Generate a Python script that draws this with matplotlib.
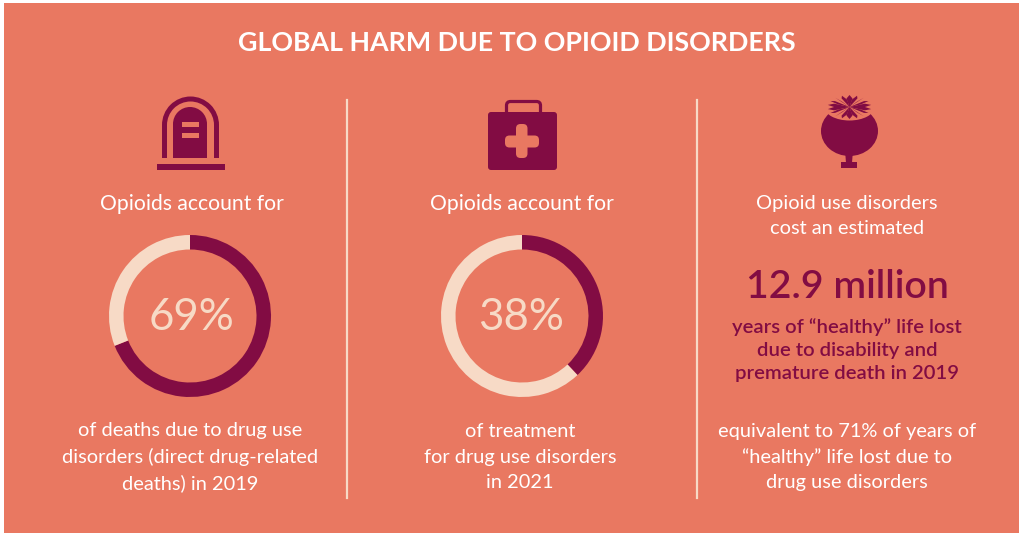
import numpy as np
import matplotlib
matplotlib.use('Agg')
import matplotlib.pyplot as plt
from matplotlib.patches import Rectangle, FancyBboxPatch, Ellipse, Polygon, Wedge

plt.rcParams['font.family'] = ['Lato', 'DejaVu Sans']

# colours
CORAL = '#E97861'
WINE = '#820C43'
CREAM = '#F7DAC6'
WHITE = '#FFFFFF'

# data
title = 'GLOBAL HARM DUE TO OPIOID DISORDERS'
shares = [69, 38]
share_labels = ['69%', '38%']
heads = ['Opioids account for', 'Opioids account for', 'Opioid use disorders\ncost an estimated']
feet = ['of deaths due to drug use\ndisorders (direct drug-related\ndeaths) in 2019',
        'of treatment\nfor drug use disorders\nin 2021',
        'equivalent to 71% of years of\n\u201chealthy\u201d life lost due to\ndrug use disorders']
big_number = '12.9 million'
big_note = 'years of \u201chealthy\u201d life lost\ndue to disability and\npremature death in 2019'

fig = plt.figure(figsize=(10.22, 5.35), dpi=100, facecolor='white')
ax = fig.add_axes([0, 0, 1, 1])

# donuts, the y axis is flipped so this runs clockwise from the top on screen
for cx, share in zip([190, 522], shares):
    ax.pie([share, 100 - share], colors=[WINE, CREAM], startangle=-90, counterclock=True,
           center=(cx, 316), radius=81, wedgeprops={'width': 14.5, 'linewidth': 0})

ax.set_xlim(0, 1022)
ax.set_ylim(535, 0)
ax.set_aspect('equal')
ax.axis('off')

# background panel
ax.add_patch(Rectangle((4, 3), 1015, 530, fc=CORAL, ec='none', zorder=0))

# column rules
for x in [347, 697]:
    ax.plot([x, x], [100, 498], color=CREAM, lw=1.6, zorder=1)

# gravestone icon
ax.add_patch(Rectangle((157, 164), 68, 6, fc=WINE, ec='none', zorder=2))
ax.add_patch(Wedge((190.5, 125), 28.5, 180, 360, width=5, fc=WINE, ec='none', zorder=2))
ax.add_patch(Rectangle((162, 124.5), 5, 33.5, fc=WINE, ec='none', zorder=2))
ax.add_patch(Rectangle((214, 124.5), 5, 33.5, fc=WINE, ec='none', zorder=2))
ax.add_patch(Wedge((190, 124), 17, 180, 360, fc=WINE, ec='none', zorder=2))
ax.add_patch(Rectangle((173, 123.5), 34, 34.5, fc=WINE, ec='none', zorder=2))
ax.add_patch(Rectangle((182, 122), 17, 5, fc=CORAL, ec='none', zorder=3))
ax.add_patch(Rectangle((182, 133), 17, 5, fc=CORAL, ec='none', zorder=3))

# first aid kit icon
ax.add_patch(FancyBboxPatch((506.5, 101.5), 34, 18, boxstyle='round,pad=0,rounding_size=4',
                            fc='none', ec=WINE, lw=2.3, zorder=2))
ax.add_patch(FancyBboxPatch((488, 112), 69, 58, boxstyle='round,pad=0,rounding_size=3',
                            fc=WINE, ec='none', zorder=3))
ax.add_patch(FancyBboxPatch((516, 124), 11.5, 34, boxstyle='round,pad=0,rounding_size=4.5',
                            fc=CORAL, ec='none', zorder=4))
ax.add_patch(FancyBboxPatch((505, 135.5), 34, 12, boxstyle='round,pad=0,rounding_size=4.5',
                            fc=CORAL, ec='none', zorder=4))

# poppy head icon
ax.add_patch(Ellipse((849.5, 131), 57, 50, fc=WINE, ec='none', zorder=2))
ax.add_patch(Polygon([(845, 150), (853, 150), (852, 163), (846, 163)], fc=WINE, ec='none', zorder=2))
ax.add_patch(Rectangle((841, 162), 16, 6, fc=WINE, ec='none', zorder=2))
ax.add_patch(Ellipse((849.5, 107), 50, 27, fc=CORAL, ec='none', zorder=3))

# crown petals radiate from the middle of the cap
for a in np.radians(np.arange(0, 360, 20)):
    sx, cy = np.sin(a), np.cos(a)
    px, py = -cy, sx
    ax.add_patch(Polygon([(849.5, 107),
                          (849.5 + 15 * sx + 3 * px, 107 - 8.5 * cy + 1.9 * py),
                          (849.5 + 22 * sx, 107 - 12 * cy),
                          (849.5 + 15 * sx - 3 * px, 107 - 8.5 * cy - 1.9 * py)],
                         fc=WINE, ec='none', zorder=4))

# texts
ax.text(517, 43, title, color=WHITE, fontsize=19.3, fontweight='bold', ha='center', va='center', zorder=5)

for x, txt in zip([192, 522], heads[:2]):
    ax.text(x, 204, txt, color=WHITE, fontsize=15.2, ha='center', va='center', zorder=5)
ax.text(847, 216, heads[2], color=WHITE, fontsize=14.4, ha='center', va='center', linespacing=1.53, zorder=5)

for cx, lab in zip([191, 521], share_labels):
    ax.text(cx, 318, lab, color=CREAM, fontsize=31.5, ha='center', va='center', zorder=5)

ax.text(847, 287, big_number, color=WINE, fontsize=28.3, fontweight='semibold', ha='center', va='center', zorder=5)
ax.text(847, 350, big_note, color=WINE, fontsize=14.6, fontweight='semibold', ha='center', va='center',
        linespacing=1.4, zorder=5)

for x, txt in zip([190, 520, 847], feet):
    ax.text(x, 457, txt, color=WHITE, fontsize=14.4, ha='center', va='center', linespacing=1.58, zorder=5)

fig.savefig('out.png', dpi=100, facecolor='white')
